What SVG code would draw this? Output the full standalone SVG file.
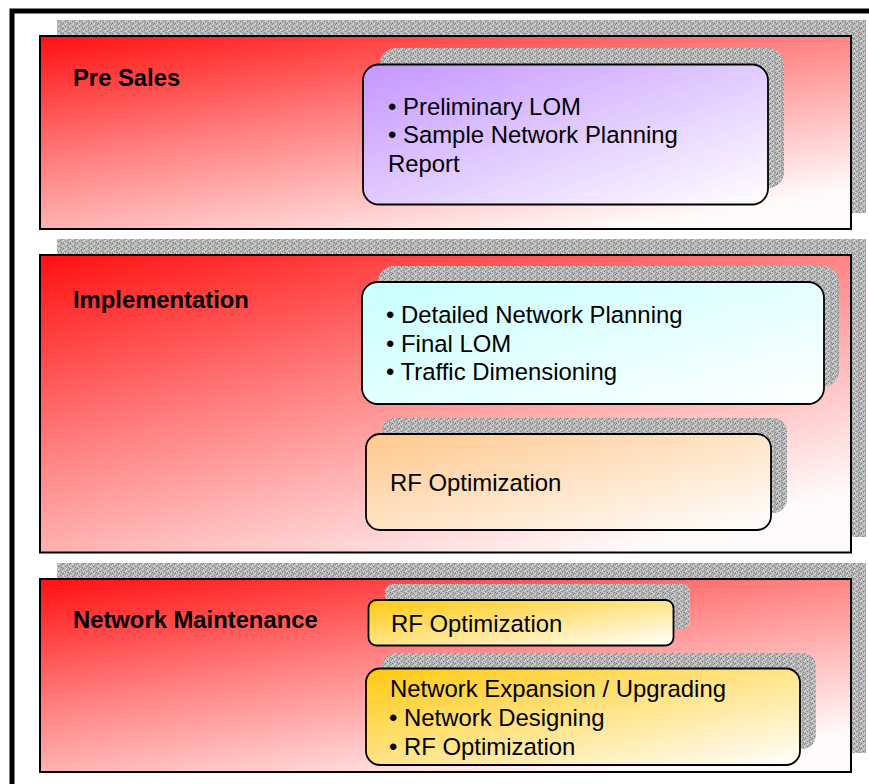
<svg xmlns="http://www.w3.org/2000/svg" width="869" height="784" viewBox="0 0 869 784">
<defs>
<pattern id="tex" x="0" y="0" width="7" height="5" patternUnits="userSpaceOnUse">
<rect width="7" height="5" fill="#b4b4b4"/>
<rect x="0" y="0" width="1" height="1" fill="#e6e6e6"/>
<rect x="4" y="0" width="1" height="1" fill="#8a8a8a"/>
<rect x="2" y="1" width="1" height="1" fill="#7c7c7c"/>
<rect x="6" y="1" width="1" height="1" fill="#dedede"/>
<rect x="1" y="2" width="1" height="1" fill="#d2d2d2"/>
<rect x="5" y="2" width="1" height="1" fill="#808080"/>
<rect x="3" y="3" width="1" height="1" fill="#e2e2e2"/>
<rect x="0" y="3" width="1" height="1" fill="#767676"/>
<rect x="6" y="4" width="1" height="1" fill="#858585"/>
<rect x="2" y="4" width="1" height="1" fill="#dcdcdc"/>
<rect x="4" y="3" width="1" height="1" fill="#9a9a9a"/>
</pattern>
<linearGradient id="gRed" x1="0" y1="0" x2="0.7" y2="1">
<stop offset="0" stop-color="#ff1010"/>
<stop offset="0.45" stop-color="#ff8080"/>
<stop offset="1" stop-color="#fffafa"/>
</linearGradient>
<linearGradient id="gPurple" x1="0" y1="0" x2="1" y2="1">
<stop offset="0" stop-color="#c496ff"/>
<stop offset="1" stop-color="#ffffff"/>
</linearGradient>
<linearGradient id="gCyan" x1="0" y1="0" x2="1" y2="1">
<stop offset="0" stop-color="#c8ffff"/>
<stop offset="1" stop-color="#ffffff"/>
</linearGradient>
<linearGradient id="gOrange" x1="0" y1="0" x2="1" y2="1">
<stop offset="0" stop-color="#ffc88c"/>
<stop offset="1" stop-color="#ffffff"/>
</linearGradient>
<linearGradient id="gGold" x1="0" y1="0" x2="1" y2="1">
<stop offset="0" stop-color="#ffc910"/>
<stop offset="1" stop-color="#ffffff"/>
</linearGradient>
</defs>
<style>
.shadow{fill:url(#tex);stroke:none}
.panel{fill:url(#gRed);stroke:#000;stroke-width:2}
.box{stroke:#000;stroke-width:1.8}
.title{font-family:"Liberation Sans",Arial,sans-serif;font-weight:bold;font-size:23.8px;fill:#000}
.txt{font-family:"Liberation Sans",Arial,sans-serif;font-size:23.9px;fill:#000}
</style>
<rect width="869" height="784" fill="#fff"/>
<rect id="frame" x="12" y="11" width="900" height="820" fill="none" stroke="#000" stroke-width="5"/>

<g id="panel-presales">
<rect class="shadow" x="57" y="20" width="809" height="193"/>
<rect class="panel" x="40" y="36" width="811" height="193"/>
<text class="title" x="73" y="86">Pre Sales</text>
</g>
<g id="box-presales">
<rect class="shadow" x="380" y="48" width="404" height="140" rx="16"/>
<rect class="box" x="363" y="64.5" width="405" height="140" rx="16" fill="url(#gPurple)"/>
<text class="txt" x="388" y="115">• Preliminary LOM</text>
<text class="txt" x="388" y="143">• Sample Network Planning</text>
<text class="txt" x="388" y="171.5">Report</text>
</g>

<g id="panel-implementation">
<rect class="shadow" x="57" y="239" width="809" height="298"/>
<rect class="panel" x="40" y="255" width="811" height="297.5"/>
<text class="title" x="73" y="307.5">Implementation</text>
</g>
<g id="box-implementation-planning">
<rect class="shadow" x="378" y="266" width="461" height="121" rx="16"/>
<rect class="box" x="362" y="282" width="462" height="122" rx="16" fill="url(#gCyan)"/>
<text class="txt" x="386" y="323">• Detailed Network Planning</text>
<text class="txt" x="386" y="351.5">• Final LOM</text>
<text class="txt" x="386" y="380">• Traffic Dimensioning</text>
</g>
<g id="box-implementation-rf">
<rect class="shadow" x="382" y="418" width="405" height="95" rx="14"/>
<rect class="box" x="366" y="434" width="405" height="96" rx="14" fill="url(#gOrange)"/>
<text class="txt" x="390" y="491">RF Optimization</text>
</g>

<g id="panel-maintenance">
<rect class="shadow" x="57" y="563" width="809" height="190"/>
<rect class="panel" x="40" y="579" width="811" height="193"/>
<text class="title" x="73" y="627.5">Network Maintenance</text>
</g>
<g id="box-maintenance-rf">
<rect class="shadow" x="385" y="584" width="305" height="45" rx="8"/>
<rect class="box" x="368.5" y="600" width="305" height="45.5" rx="8" fill="url(#gGold)"/>
<text class="txt" x="391" y="632">RF Optimization</text>
</g>
<g id="box-maintenance-expansion">
<rect class="shadow" x="382" y="653" width="434" height="96" rx="14"/>
<rect class="box" x="366" y="668.5" width="434" height="96.5" rx="14" fill="url(#gGold)"/>
<text class="txt" x="390" y="697">Network Expansion / Upgrading</text>
<text class="txt" x="389" y="726">• Network Designing</text>
<text class="txt" x="389" y="754.5">• RF Optimization</text>
</g>
<g id="connectors"/>
</svg>
